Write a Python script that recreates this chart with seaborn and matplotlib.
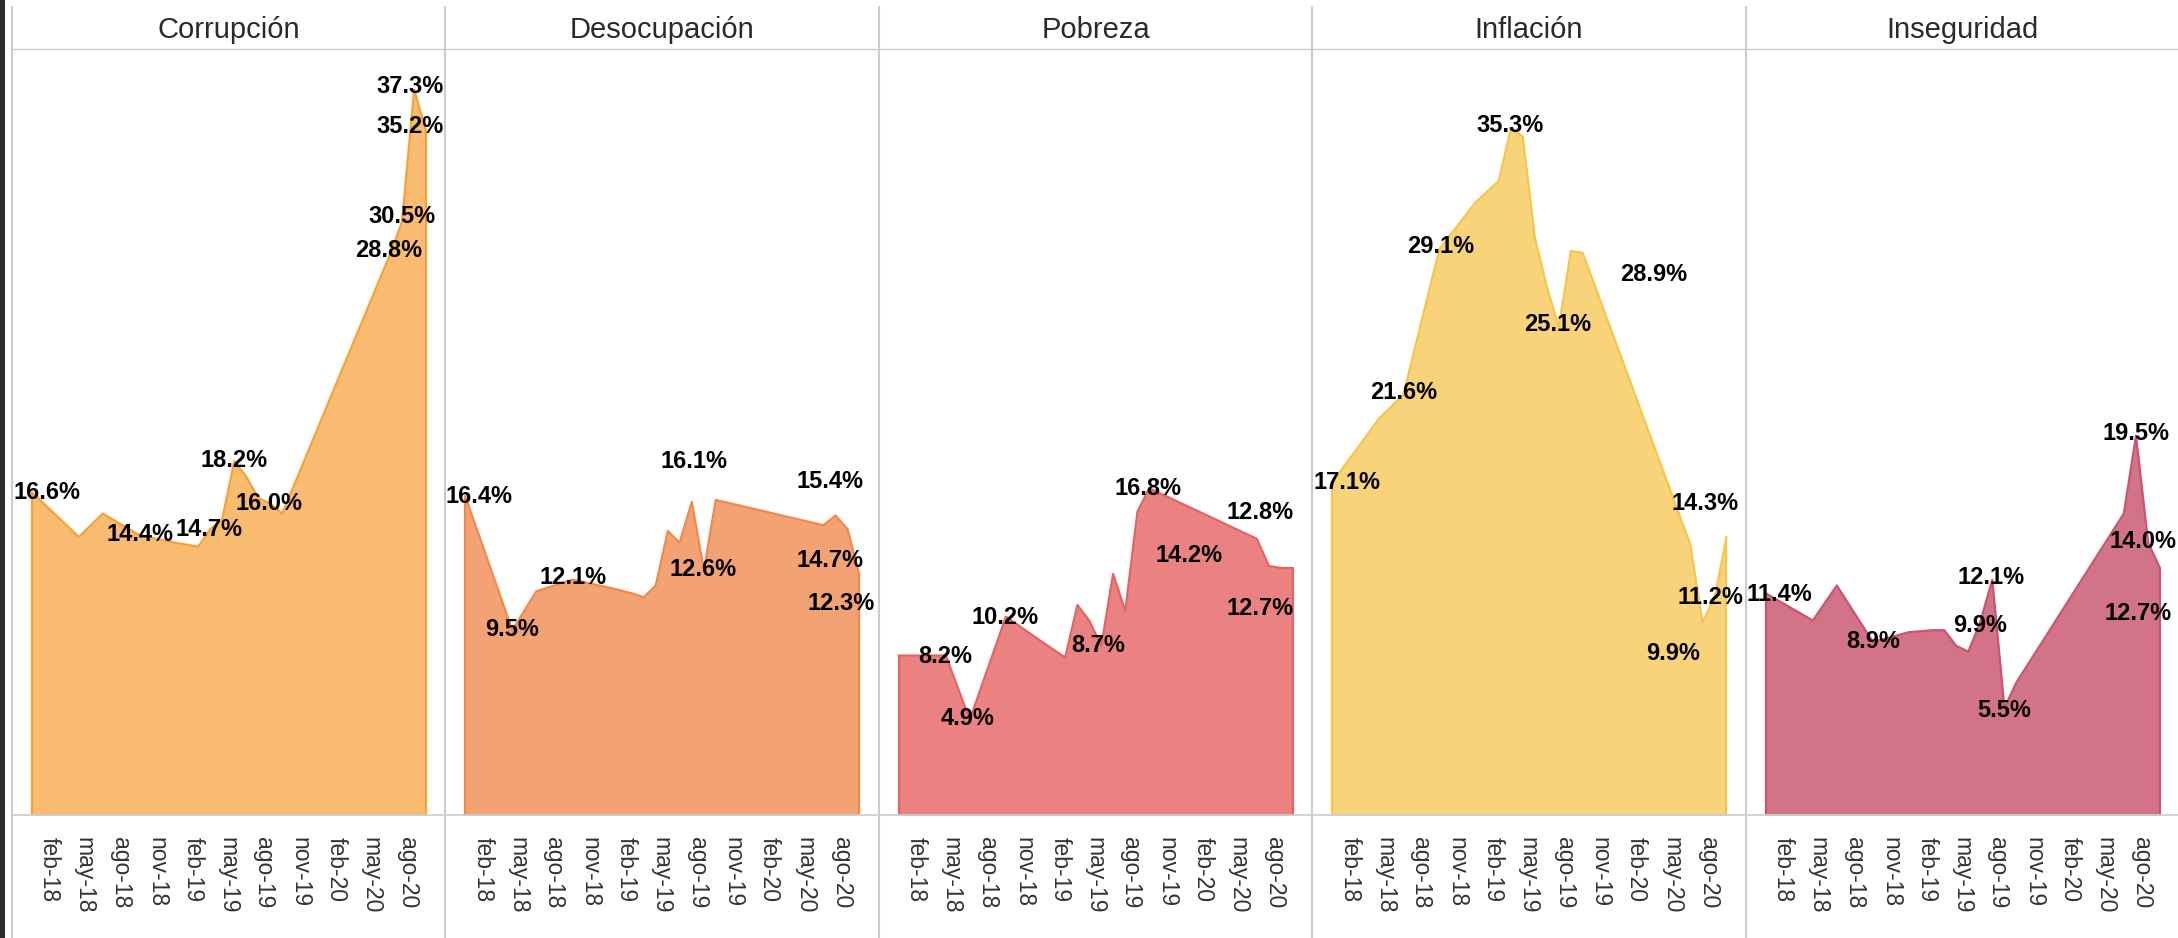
import pandas as pd
import seaborn as sns
import matplotlib.pyplot as plt
from matplotlib.lines import Line2D
from matplotlib.patches import Rectangle


# fechas de las mediciones (comunes a los cinco temas)
fechas = ['2018-01-01', '2018-05-01', '2018-07-01', '2018-10-01',
          '2019-01-01', '2019-03-01', '2019-04-01', '2019-05-01',
          '2019-06-01', '2019-07-01', '2019-08-01', '2019-09-01',
          '2019-10-01', '2020-07-01', '2020-08-01', '2020-09-01',
          '2020-10-01']

temas = ['Corrupción', 'Desocupación', 'Pobreza', 'Inflación', 'Inseguridad']

corrupcion = [16.6, 14.3, 15.5, 14.4, 14.0, 13.8, 14.7, 15.2, 18.2, 17.4,
              16.3, 16.0, 15.5, 28.8, 30.5, 37.3, 35.2]
desocupacion = [16.4, 9.5, 11.5, 12.1, 11.7, 11.4, 11.2, 11.8, 14.6, 14.0,
                16.1, 12.6, 16.2, 14.9, 15.4, 14.7, 12.3]
pobreza = [8.2, 8.2, 4.9, 10.2, 8.9, 8.1, 10.8, 10.0, 8.7, 12.4, 10.5,
           15.6, 16.8, 14.2, 12.8, 12.7, 12.7]
inflacion = [17.1, 20.4, 21.6, 29.1, 31.5, 32.6, 35.3, 34.9, 29.7, 27.2,
             25.1, 29.0, 28.9, 13.9, 9.9, 11.2, 14.3]
inseguridad = [11.4, 10.0, 11.8, 8.9, 9.4, 9.5, 9.5, 8.7, 8.4, 9.9, 12.1,
               5.5, 6.8, 15.5, 19.5, 14.0, 12.7]

# etiquetas del eje x
ticks = ['2018-02-15', '2018-05-15', '2018-08-15', '2018-11-15',
         '2019-02-15', '2019-05-15', '2019-08-15', '2019-11-15',
         '2020-02-15', '2020-05-15', '2020-08-15']
tick_labels = ['feb-18', 'may-18', 'ago-18', 'nov-18', 'feb-19', 'may-19',
               'ago-19', 'nov-19', 'feb-20', 'may-20', 'ago-20']

# puntos con etiqueta: (indice de fecha, desplazamiento x px, y px)
etiquetas = {
    'Corrupción': [(0, 15, 0), (3, 1, 0), (6, -1, 0), (8, 0, 1), (11, -1, 0),
                   (13, -1, 4), (14, 0, 5), (15, -4, 3), (16, -16, 4)],
    'Desocupación': [(0, 14, 0), (1, 0, 1), (3, 1, 2), (10, 2, 40),
                     (11, -1, 0), (14, -6, 34), (15, -18, -31),
                     (16, -18, -28)],
    'Pobreza': [(1, -1, -1), (2, -2, 1), (3, -1, -1), (8, -3, 0),
                (12, -1, 0), (13, -68, -17), (14, -9, 54), (16, -33, -41)],
    'Inflación': [(0, 15, 0), (2, 0, 2), (3, 1, 3), (6, -1, 3), (10, -1, 2),
                  (12, 71, -22), (16, -21, 33), (14, -29, -31), (15, -4, 0)],
    'Inseguridad': [(0, 14, -1), (3, 0, 0), (9, 0, -3), (10, -1, 2),
                    (11, 0, -2), (14, 0, 2), (15, -5, 1), (16, -22, -46)],
}

relleno = ['#F8BB6F', '#F2A273', '#EB8282', '#F8D37A', '#D27387']
borde = ['#F5A23C', '#EF8A4E', '#E26565', '#F6C64C', '#C9556F']

df = pd.DataFrame({
    'fecha': pd.to_datetime(fechas * 5),
    'tema': [t for t in temas for _ in fechas],
    'valor': corrupcion + desocupacion + pobreza + inflacion + inseguridad,
})

sns.set_style('white')
plt.rcParams['font.family'] = ['Liberation Sans', 'DejaVu Sans']

W, H = 2178, 938
fig = plt.figure(figsize=(W / 100, H / 100), dpi=100)
fig.patch.set_facecolor('white')

x0 = 11.7       # borde izquierdo del primer panel (px)
ancho = 433.5   # ancho de cada panel (px)
y_top = 48.7    # linea bajo los titulos (px desde arriba)
y_base = 815    # linea base (px desde arriba)
inicio = pd.Timestamp('2018-01-01')
gris = '#CCCCCC'

for i, tema in enumerate(temas):
    left = x0 + i * ancho
    ax = fig.add_axes([left / W, (H - y_base) / H, ancho / W,
                       (y_base - y_top) / H])
    ax.patch.set_alpha(0)
    sub = df[df['tema'] == tema].reset_index(drop=True)

    ax.fill_between(sub['fecha'], 0, sub['valor'], color=relleno[i], lw=0)
    sns.lineplot(data=sub, x='fecha', y='valor', color=borde[i], lw=1.6,
                 ax=ax)
    ax.vlines([sub['fecha'].iloc[0], sub['fecha'].iloc[-1]], 0,
              [sub['valor'].iloc[0], sub['valor'].iloc[-1]],
              color=borde[i], lw=1.6)

    for idx, dx, dy in etiquetas[tema]:
        v = sub['valor'].iloc[idx]
        ax.annotate(f'{v:.1f}%', (sub['fecha'].iloc[idx], v),
                    xytext=(dx, dy), textcoords='offset pixels',
                    ha='center', va='center', fontsize=17,
                    fontweight='bold', color='black', zorder=5,
                    annotation_clip=False)

    ax.set_xlim(inicio - pd.Timedelta(days=51),
                inicio + pd.Timedelta(days=1053))
    ax.set_ylim(0, 39.4)
    ax.set_xticks(pd.to_datetime(ticks))
    ax.set_xticklabels(tick_labels, rotation=-90)
    ax.tick_params(axis='x', length=0, pad=15.5, labelsize=16.5,
                   labelcolor='#333333')
    ax.set_yticks([])
    ax.set_xlabel('')
    ax.set_ylabel('')
    for s in ax.spines.values():
        s.set_visible(False)

    fig.text((left + ancho / 2) / W, (H - 38.5) / H, tema,
             ha='center', va='baseline', fontsize=21, color='#2A2A2A')

    fig.add_artist(Line2D([left / W, left / W], [0, (H - 7) / H],
                          color=gris, lw=1.5))

fig.add_artist(Line2D([x0 / W, 1], [(H - y_top) / H] * 2, color=gris, lw=1.0))
fig.add_artist(Line2D([x0 / W, 1], [(H - y_base) / H] * 2, color=gris,
                      lw=1.2))
fig.add_artist(Rectangle((0, 0), 4.5 / W, 1, transform=fig.transFigure,
                         color='#2B2B2B', lw=0))

plt.savefig('out.png', dpi=100)
